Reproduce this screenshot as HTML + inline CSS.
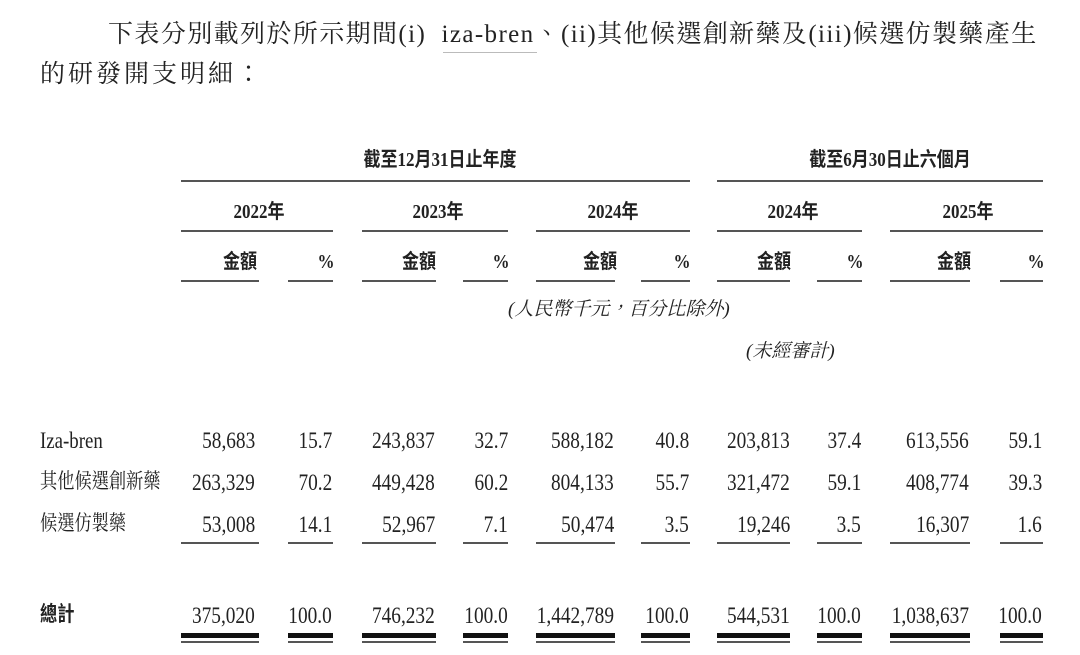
<!DOCTYPE html>
<html><head><meta charset="utf-8">
<style>
html,body{margin:0;padding:0;background:#fff;}
body{width:1080px;height:655px;position:relative;overflow:hidden;font-family:"Liberation Serif","Noto Serif CJK SC",serif;color:#222;}
.t{position:absolute;white-space:nowrap;line-height:1;}
.n{position:absolute;white-space:nowrap;line-height:1;font-size:23px;transform:scaleX(0.84);transform-origin:right center;}
.h{position:absolute;white-space:nowrap;line-height:1;font-size:20px;font-weight:bold;font-family:"Liberation Serif","Noto Sans CJK TC",sans-serif;transform:scaleX(0.85);transform-origin:center center;}
.l{position:absolute;height:2px;background:#555;}
.b{position:absolute;height:5px;background:#111;}
.c{position:absolute;white-space:nowrap;line-height:1;font-size:21px;font-family:"Liberation Serif","Noto Serif CJK TC",serif;transform:scaleX(0.82);transform-origin:left center;}
</style></head><body>
<div class="t" style="left:108px;top:22px;font-size:25px;font-family:'Liberation Serif','Noto Serif CJK TC',serif;letter-spacing:1.4px;">下表分別載列於所示期間(i)&nbsp; iza-bren、(ii)其他候選創新藥及(iii)候選仿製藥產生</div>
<div class="l" style="left:443px;top:52px;width:94px;height:1px;background:#bbb"></div>
<div class="t" style="left:40px;top:62px;font-size:25px;font-family:'Liberation Serif','Noto Serif CJK TC',serif;letter-spacing:3px;">的研發開支明細：</div>

<div class="h" style="left:350px;top:150px;">截至12月31日止年度</div>
<div class="h" style="left:795px;top:150px;">截至6月30日止六個月</div>
<div class="l" style="left:181px;top:180px;width:509px"></div>
<div class="l" style="left:717px;top:180px;width:326px"></div>

<div class="h" style="left:229px;top:202px;">2022年</div>
<div class="h" style="left:408px;top:202px;">2023年</div>
<div class="h" style="left:583px;top:202px;">2024年</div>
<div class="h" style="left:763px;top:202px;">2024年</div>
<div class="h" style="left:938px;top:202px;">2025年</div>
<div class="l" style="left:181px;top:230px;width:152px"></div>
<div class="l" style="left:362px;top:230px;width:146px"></div>
<div class="l" style="left:536px;top:230px;width:154px"></div>
<div class="l" style="left:717px;top:230px;width:145px"></div>
<div class="l" style="left:890px;top:230px;width:153px"></div>

<div class="h" style="left:220px;top:252px;">金額</div><div class="h" style="left:316px;top:252px;">%</div>
<div class="h" style="left:399px;top:252px;">金額</div><div class="h" style="left:491px;top:252px;">%</div>
<div class="h" style="left:580px;top:252px;">金額</div><div class="h" style="left:672px;top:252px;">%</div>
<div class="h" style="left:754px;top:252px;">金額</div><div class="h" style="left:845px;top:252px;">%</div>
<div class="h" style="left:934px;top:252px;">金額</div><div class="h" style="left:1026px;top:252px;">%</div>
<div class="l" style="left:181px;top:280px;width:78px"></div><div class="l" style="left:288px;top:280px;width:45px"></div>
<div class="l" style="left:362px;top:280px;width:74px"></div><div class="l" style="left:463px;top:280px;width:45px"></div>
<div class="l" style="left:536px;top:280px;width:79px"></div><div class="l" style="left:641px;top:280px;width:49px"></div>
<div class="l" style="left:717px;top:280px;width:73px"></div><div class="l" style="left:817px;top:280px;width:45px"></div>
<div class="l" style="left:890px;top:280px;width:80px"></div><div class="l" style="left:1000px;top:280px;width:43px"></div>

<div class="t" style="left:508px;top:300px;font-size:19px;font-style:italic;font-family:'Liberation Serif','Noto Serif CJK TC',serif;">(人民幣千元，百分比除外)</div>
<div class="t" style="left:746px;top:342px;font-size:19px;font-style:italic;font-family:'Liberation Serif','Noto Serif CJK TC',serif;">(未經審計)</div>

<div class="c" style="left:40px;top:429px;font-size:23px">Iza-bren</div>
<div class="c" style="left:40px;top:471px;">其他候選創新藥</div>
<div class="c" style="left:40px;top:513px;">候選仿製藥</div>
<div class="c" style="left:40px;top:604px;font-weight:bold;font-family:'Liberation Serif','Noto Sans CJK TC',sans-serif;">總計</div>

<div class="n" style="right:825px;top:429px">58,683</div><div class="n" style="right:748px;top:429px">15.7</div>
<div class="n" style="right:645px;top:429px">243,837</div><div class="n" style="right:572px;top:429px">32.7</div>
<div class="n" style="right:466px;top:429px">588,182</div><div class="n" style="right:391px;top:429px">40.8</div>
<div class="n" style="right:290px;top:429px">203,813</div><div class="n" style="right:219px;top:429px">37.4</div>
<div class="n" style="right:111px;top:429px">613,556</div><div class="n" style="right:38px;top:429px">59.1</div>

<div class="n" style="right:825px;top:471px">263,329</div><div class="n" style="right:748px;top:471px">70.2</div>
<div class="n" style="right:645px;top:471px">449,428</div><div class="n" style="right:572px;top:471px">60.2</div>
<div class="n" style="right:466px;top:471px">804,133</div><div class="n" style="right:391px;top:471px">55.7</div>
<div class="n" style="right:290px;top:471px">321,472</div><div class="n" style="right:219px;top:471px">59.1</div>
<div class="n" style="right:111px;top:471px">408,774</div><div class="n" style="right:38px;top:471px">39.3</div>

<div class="n" style="right:825px;top:513px">53,008</div><div class="n" style="right:748px;top:513px">14.1</div>
<div class="n" style="right:645px;top:513px">52,967</div><div class="n" style="right:572px;top:513px">7.1</div>
<div class="n" style="right:466px;top:513px">50,474</div><div class="n" style="right:391px;top:513px">3.5</div>
<div class="n" style="right:290px;top:513px">19,246</div><div class="n" style="right:219px;top:513px">3.5</div>
<div class="n" style="right:111px;top:513px">16,307</div><div class="n" style="right:38px;top:513px">1.6</div>

<div class="l" style="left:181px;top:542px;width:78px"></div><div class="l" style="left:288px;top:542px;width:45px"></div>
<div class="l" style="left:362px;top:542px;width:74px"></div><div class="l" style="left:463px;top:542px;width:45px"></div>
<div class="l" style="left:536px;top:542px;width:79px"></div><div class="l" style="left:641px;top:542px;width:49px"></div>
<div class="l" style="left:717px;top:542px;width:73px"></div><div class="l" style="left:817px;top:542px;width:45px"></div>
<div class="l" style="left:890px;top:542px;width:80px"></div><div class="l" style="left:1000px;top:542px;width:43px"></div>

<div class="n" style="right:825px;top:604px">375,020</div><div class="n" style="right:748px;top:604px">100.0</div>
<div class="n" style="right:645px;top:604px">746,232</div><div class="n" style="right:572px;top:604px">100.0</div>
<div class="n" style="right:466px;top:604px">1,442,789</div><div class="n" style="right:391px;top:604px">100.0</div>
<div class="n" style="right:290px;top:604px">544,531</div><div class="n" style="right:219px;top:604px">100.0</div>
<div class="n" style="right:111px;top:604px">1,038,637</div><div class="n" style="right:38px;top:604px">100.0</div>

<div class="b" style="left:181px;top:633px;width:78px"></div><div class="b" style="left:288px;top:633px;width:45px"></div>
<div class="b" style="left:362px;top:633px;width:74px"></div><div class="b" style="left:463px;top:633px;width:45px"></div>
<div class="b" style="left:536px;top:633px;width:79px"></div><div class="b" style="left:641px;top:633px;width:49px"></div>
<div class="b" style="left:717px;top:633px;width:73px"></div><div class="b" style="left:817px;top:633px;width:45px"></div>
<div class="b" style="left:890px;top:633px;width:80px"></div><div class="b" style="left:1000px;top:633px;width:43px"></div>
<div class="l" style="left:181px;top:641px;width:78px"></div><div class="l" style="left:288px;top:641px;width:45px"></div>
<div class="l" style="left:362px;top:641px;width:74px"></div><div class="l" style="left:463px;top:641px;width:45px"></div>
<div class="l" style="left:536px;top:641px;width:79px"></div><div class="l" style="left:641px;top:641px;width:49px"></div>
<div class="l" style="left:717px;top:641px;width:73px"></div><div class="l" style="left:817px;top:641px;width:45px"></div>
<div class="l" style="left:890px;top:641px;width:80px"></div><div class="l" style="left:1000px;top:641px;width:43px"></div>
</body></html>
